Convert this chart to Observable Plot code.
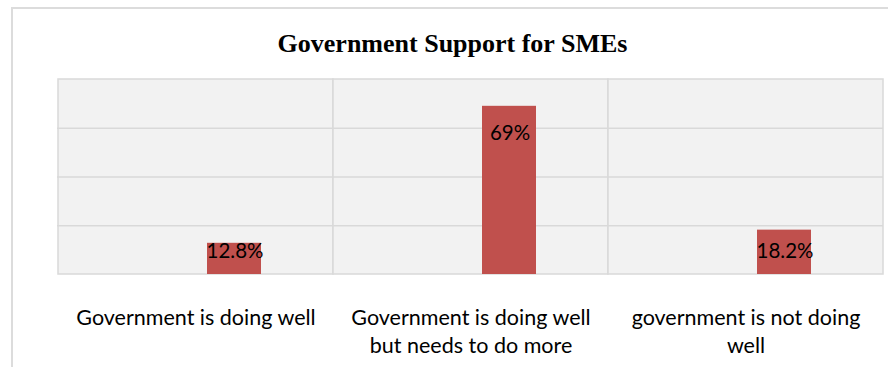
<!DOCTYPE html>
<html>
<head>
<meta charset="utf-8">
<script src="https://cdn.jsdelivr.net/npm/d3@7"></script>
<script src="https://cdn.jsdelivr.net/npm/@observablehq/plot@0.6"></script>
<style>
  html, body { margin: 0; padding: 0; background: #fff; overflow: hidden; }
  #wrap { position: relative; width: 888px; height: 367px; }
  #border { position: absolute; left: 11px; top: 7px; width: 900px; height: 420px; border: 2px solid #dcdcdc; box-sizing: border-box; }
  #chart { position: absolute; left: 0; top: 0; }
</style>
</head>
<body>
<div id="wrap"><div id="border"></div><div id="chart"></div></div>
<script>
const title = "Government Support for SMEs";
const categories = [
  "Government is doing well",
  "Government is doing well but needs to do more",
  "government is not doing well"
];
const values = [12.8, 69, 18.2];
const valueLabels = ["12.8%", "69%", "18.2%"];
const tickLabels = [
  "Government is doing well",
  "Government is doing well\nbut needs to do more",
  "government is not doing\nwell"
];
const yTicks = [0, 20, 40, 60, 80];

const data = categories.map((c, i) => ({category: c, value: values[i], label: valueLabels[i], tick: tickLabels[i]}));
const bodyFont = "Lato, Carlito, Calibri, 'Open Sans', sans-serif";

const chart = Plot.plot({
  width: 888,
  height: 367,
  marginLeft: 57,
  marginRight: 5,
  marginTop: 79,
  marginBottom: 93,
  style: {background: "transparent", overflow: "visible"},
  x: {domain: categories, padding: 0, axis: null},
  y: {domain: [yTicks[0], yTicks[yTicks.length - 1]], axis: null},
  marks: [
    Plot.barY(categories, {x: d => d, y1: yTicks[0], y2: yTicks[yTicks.length - 1], fill: "#f2f2f2", stroke: "#d9d9d9", strokeWidth: 1.5}),
    Plot.ruleY(yTicks.slice(1, -1), {stroke: "#d9d9d9", strokeWidth: 1.5}),
    Plot.barY(data, {x: "category", y: "value", fill: "#c0504d", insetLeft: 149, insetRight: 72}),
    Plot.text(data, {
      x: "category",
      y: d => Math.max(d.value - 8.03, 12.55),
      text: "label",
      dx: 39,
      lineAnchor: "top",
      fontSize: 20.5,
      fontFamily: bodyFont,
      fill: "#000"
    }),
    Plot.text(data, {
      x: "category",
      text: "tick",
      frameAnchor: "bottom",
      lineAnchor: "top",
      dy: 30.7,
      lineHeight: 28 / 21.5,
      fontSize: 21.5,
      fontFamily: bodyFont,
      fill: "#000"
    }),
    Plot.text([title], {
      text: d => d,
      frameAnchor: "top",
      lineAnchor: "top",
      dx: -18,
      dy: -45.5,
      fontSize: 26,
      fontWeight: "bold",
      fontFamily: "'Liberation Serif', 'Times New Roman', serif",
      fill: "#000"
    })
  ]
});
document.getElementById("chart").appendChild(chart);
</script>
</body>
</html>
